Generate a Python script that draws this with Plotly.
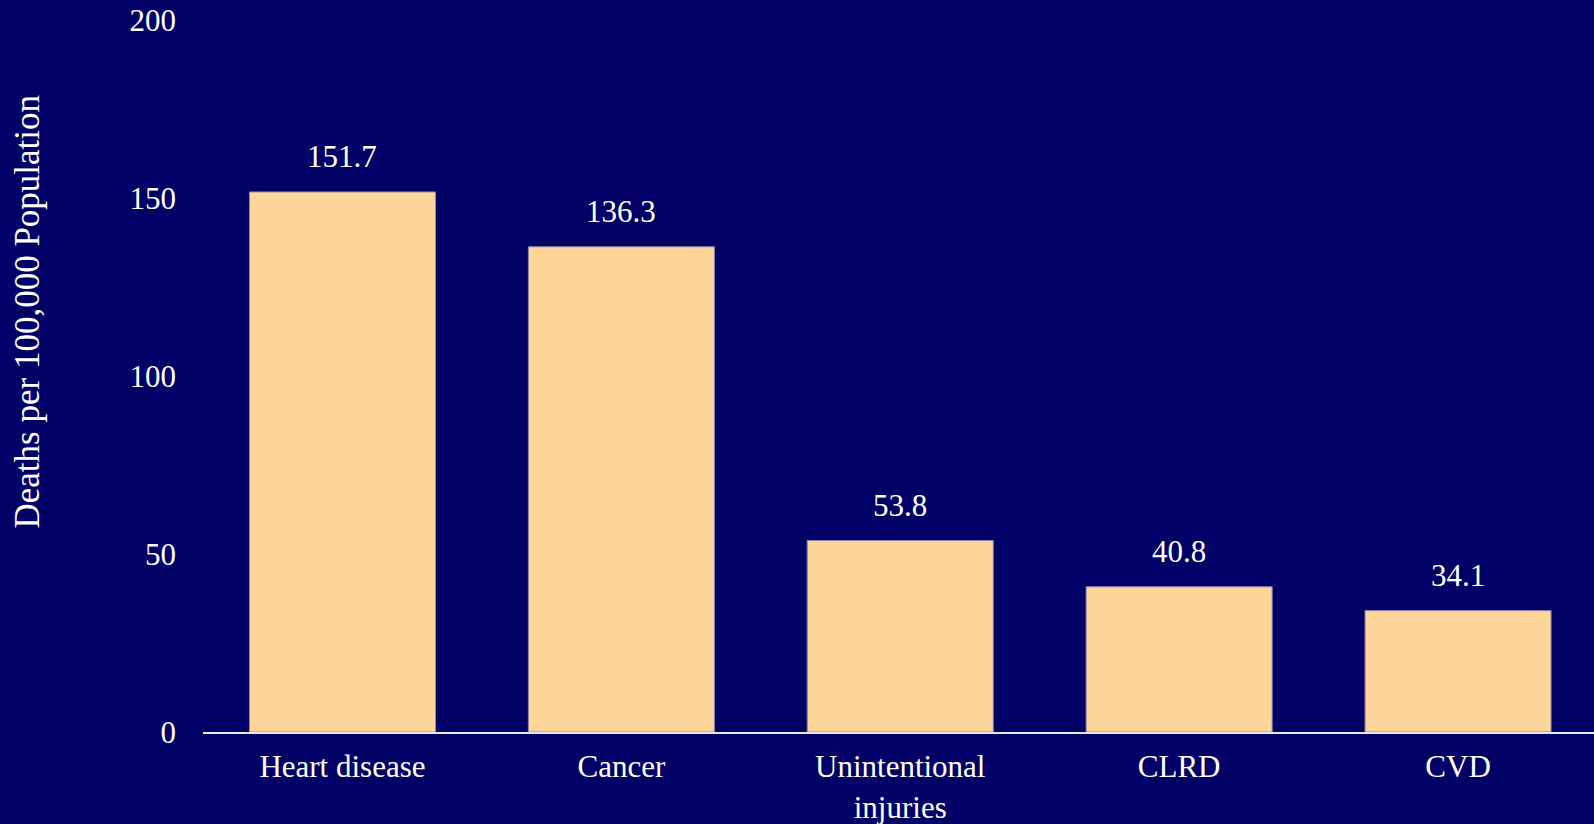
import plotly.graph_objects as go

categories = ["Heart disease", "Cancer", "Unintentional<br>injuries", "CLRD", "CVD"]
rates = [151.7, 136.3, 53.8, 40.8, 34.1]
value_labels = ["151.7", "136.3", "53.8", "40.8", "34.1"]
y_ticks = [0, 50, 100, 150, 200]

BG = "#000066"
BAR = "#FFD699"
FONT = "Liberation Serif, Times New Roman, serif"

fig = go.Figure()
fig.add_trace(go.Bar(
    x=list(range(len(categories))),
    y=rates,
    marker=dict(color=BAR, line=dict(color="#8c86a8", width=1)),
    width=0.667,
    hoverinfo="skip",
))

for i, (v, t) in enumerate(zip(rates, value_labels)):
    fig.add_annotation(
        x=i, y=v, xref="x", yref="y", text=t, showarrow=False,
        yanchor="middle", yshift=35,
        font=dict(family=FONT, size=31, color="white"),
    )

fig.add_annotation(
    xref="paper", yref="paper", x=0, y=(732 - 312) / 712,
    xanchor="center", yanchor="middle", xshift=26 - 202.5,
    text="Deaths per 100,000 Population", textangle=-90, showarrow=False,
    font=dict(family=FONT, size=35, color="white"),
)

fig.update_layout(
    width=1594, height=824,
    margin=dict(l=202.5, r=0, t=20, b=92, pad=0, autoexpand=False),
    paper_bgcolor=BG, plot_bgcolor=BG,
    showlegend=False,
    bargap=0.333,
    font=dict(family=FONT, size=31, color="white"),
    xaxis=dict(
        tickmode="array", tickvals=list(range(len(categories))), ticktext=categories,
        range=[-0.5, -0.5 + (1594 - 202.5) / 279],
        showline=True, linecolor="#e8e8f0", linewidth=2,
        showgrid=False, zeroline=False, ticks="",
        tickfont=dict(family=FONT, size=31, color="white"),
        ticklabelstandoff=6, automargin=False,
    ),
    yaxis=dict(
        range=[0, 200], tickmode="array", tickvals=y_ticks,
        showline=False, showgrid=False, zeroline=False, ticks="",
        tickfont=dict(family=FONT, size=31, color="white"),
        ticklabelstandoff=26, automargin=False,
    ),
)

fig.write_html(
    "out.html",
    config={"displayModeBar": False},
    post_script="document.body.style.margin='0';document.body.style.overflow='hidden';document.body.style.background='#000066';",
)
